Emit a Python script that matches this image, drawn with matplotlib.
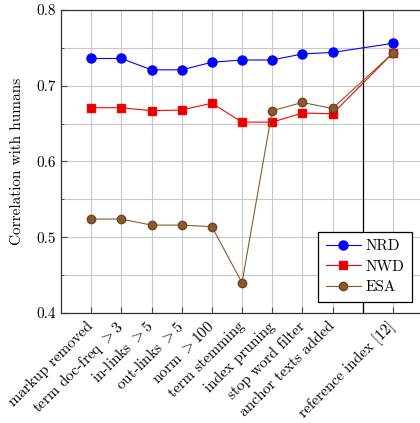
import numpy as np
import matplotlib
matplotlib.use('Agg')
import matplotlib.pyplot as plt

matplotlib.rcParams['font.family'] = ['cmr10', 'DejaVu Serif']
matplotlib.rcParams['mathtext.fontset'] = 'cm'
matplotlib.rcParams['axes.formatter.use_mathtext'] = True
matplotlib.rcParams['font.size'] = 11

labels = ['markup removed', 'term doc-freq $>$3', 'in-links $>$5', 'out-links $>$5',
          'norm $>$100', 'term stemming', 'index pruning', 'stop word filter',
          'anchor texts added', 'reference index [12]']
xpos = [1, 2, 3, 4, 5, 6, 7, 8, 9, 11]

nrd = [0.736, 0.736, 0.721, 0.721, 0.731, 0.734, 0.734, 0.742, 0.744, 0.756]
nwd = [0.671, 0.671, 0.667, 0.668, 0.677, 0.652, 0.652, 0.664, 0.663, 0.743]
esa = [0.524, 0.524, 0.516, 0.516, 0.514, 0.440, 0.667, 0.678, 0.670, 0.743]

fig = plt.figure(figsize=(4.2, 4.23), dpi=100)
ax = fig.add_axes([61/420, 110/423, 362/420, 303/423])

brown = '#8c5a2c'
ax.plot(xpos, nrd, '-o', color='blue', lw=0.8, markersize=6.5, label='NRD', zorder=3)
ax.plot(xpos, nwd, '-s', color='red', lw=0.8, markersize=6, mfc='#dd0000', label='NWD', zorder=3)
ax.plot(xpos, esa, '-o', color=brown, lw=0.8, markersize=6, mfc='#8a5a2e', mec='#6e4520',
        label='ESA', zorder=3)

ax.axvline(10, color='black', lw=0.9, zorder=2)

ax.set_xlim(0, 12)
ax.set_ylim(0.4, 0.8)
ax.set_yticks([0.4, 0.5, 0.6, 0.7, 0.8])
ax.set_yticks(np.arange(0.45, 0.8, 0.1), minor=True)
ax.set_yticklabels(['0.4', '0.5', '0.6', '0.7', '0.8'])
ax.set_xticks(xpos + [10])
ax.set_xticklabels(labels + [''], rotation=45, ha='right', va='center', rotation_mode='anchor')
ax.tick_params(axis='x', pad=8)
ax.tick_params(direction='in', length=4, color='#444444', top=False, right=False)
ax.tick_params(which='minor', direction='in', length=2.5, color='#444444')
ax.grid(True, which='both', color='#c8c8c8', lw=0.8, zorder=0)
ax.set_axisbelow(True)
for s in ax.spines.values():
    s.set_color('#333333')
    s.set_linewidth(0.9)

ax.set_ylabel('Correlation with humans', labelpad=9)

leg = ax.legend(loc='lower right', bbox_to_anchor=(412/420, 1 - 302/423),
                bbox_transform=fig.transFigure,
                frameon=True, fancybox=False, edgecolor='black', framealpha=1,
                handlelength=2.3, borderpad=0.5, labelspacing=0.45, handletextpad=0.3,
                borderaxespad=0)
leg.get_frame().set_linewidth(0.9)

fig.savefig('out.png', dpi=100)
